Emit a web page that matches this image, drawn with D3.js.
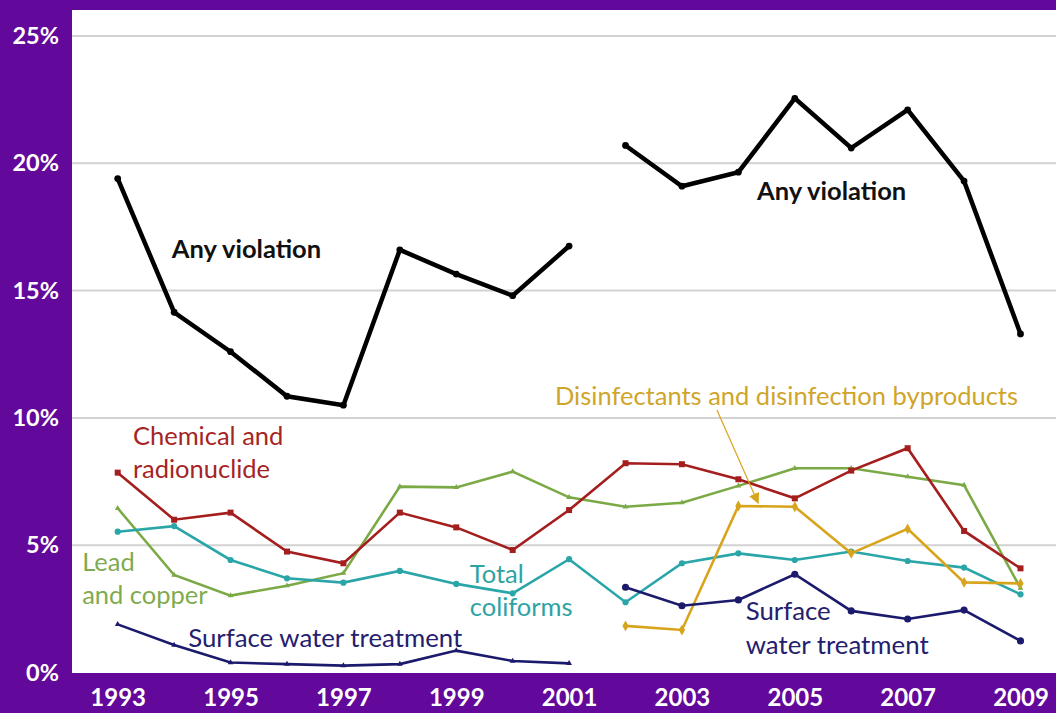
<!DOCTYPE html>
<html>
<head>
<meta charset="utf-8">
<script src="https://cdn.jsdelivr.net/npm/d3@7"></script>
<style>
  html, body { margin: 0; padding: 0; background: #62089a; }
  svg { display: block; }
  text { font-family: Lato, "Open Sans", sans-serif; }
</style>
</head>
<body>
<svg id="chart" width="1056" height="713"></svg>
<script>
// Share of systems with violations, by year and violation type (percent)
const years = [1993, 1994, 1995, 1996, 1997, 1998, 1999, 2000, 2001,
               2002, 2003, 2004, 2005, 2006, 2007, 2008, 2009];
const yTicks = [0, 5, 10, 15, 20, 25];
const xTickYears = [1993, 1995, 1997, 1999, 2001, 2003, 2005, 2007, 2009];

// Reporting changed after 2001, so some series are drawn as two separate runs
const breakAfter = 2001;

const anyViolation = [19.4, 14.15, 12.6, 10.85, 10.5, 16.6, 15.65, 14.8, 16.75,
                      20.7, 19.1, 19.65, 22.55, 20.6, 22.1, 19.3, 13.3];
const chemicalRadionuclide = [7.85, 6.0, 6.28, 4.75, 4.29, 6.28, 5.7, 4.81, 6.38,
                              8.22, 8.18, 7.59, 6.84, 7.93, 8.81, 5.56, 4.09];
const leadCopper = [6.45, 3.83, 3.02, 3.41, 3.9, 7.3, 7.27, 7.89, 6.88,
                    6.51, 6.67, 7.33, 8.02, 8.02, 7.69, 7.36, 3.31];
const totalColiforms = [5.53, 5.75, 4.42, 3.7, 3.53, 3.99, 3.48, 3.11, 4.45,
                        2.76, 4.29, 4.68, 4.42, 4.75, 4.38, 4.12, 3.07];
const surfaceWater = [1.89, 1.08, 0.39, 0.33, 0.27, 0.33, 0.86, 0.45, 0.36,
                      3.35, 2.62, 2.85, 3.86, 2.42, 2.1, 2.45, 1.24];
const disinfectants = [null, null, null, null, null, null, null, null, null,
                       1.83, 1.67, 6.54, 6.51, 4.68, 5.64, 3.54, 3.5];

const purple = "#62089a";
const colors = {
  any: "#000000",
  chem: "#a51e1e",
  lead: "#7aa945",
  coli: "#2aa5a8",
  swt: "#1c1a6c",
  dbp: "#d8a41c"
};

const svg = d3.select("#chart");
const W = 1056, H = 713;
const plot = { left: 72, top: 10, right: 1056, bottom: 673 };

const x = d3.scaleLinear().domain([1993, 2009]).range([117.7, 1020.5]);
const y = d3.scaleLinear().domain([0, 25]).range([672.5, 36]);

// Frame: purple page with white plotting panel
svg.append("rect").attr("width", W).attr("height", H).attr("fill", purple);
svg.append("rect")
  .attr("x", plot.left).attr("y", plot.top)
  .attr("width", plot.right - plot.left).attr("height", plot.bottom - plot.top)
  .attr("fill", "#ffffff");

// Horizontal gridlines
svg.append("g")
  .selectAll("line")
  .data(yTicks.filter(d => d > 0))
  .join("line")
  .attr("x1", plot.left).attr("x2", plot.right)
  .attr("y1", d => y(d)).attr("y2", d => y(d))
  .attr("stroke", "#d2d2d2").attr("stroke-width", 2);

// Y axis labels
const yAxis = d3.axisLeft(y).tickValues(yTicks).tickFormat(d => d + "%").tickSize(0).tickPadding(0);
const gy = svg.append("g").attr("transform", "translate(59,0)").call(yAxis);
gy.select(".domain").remove();
gy.selectAll("text")
  .attr("fill", "#ffffff").attr("font-size", 23.5).attr("font-weight", 700)
  .attr("font-family", "Lato, sans-serif");

// X axis labels
const xAxis = d3.axisBottom(x).tickValues(xTickYears).tickFormat(d3.format("d")).tickSize(0).tickPadding(0);
const gx = svg.append("g").attr("transform", "translate(0,689)").call(xAxis);
gx.select(".domain").remove();
gx.selectAll("text")
  .attr("fill", "#ffffff").attr("font-size", 24).attr("font-weight", 700)
  .attr("font-family", "Lato, sans-serif");

// Split a series into runs on either side of the reporting break
function runs(values) {
  const pts = years.map((yr, i) => ({ yr, v: values[i] })).filter(p => p.v != null);
  return [pts.filter(p => p.yr <= breakAfter), pts.filter(p => p.yr > breakAfter)]
    .filter(r => r.length > 0);
}
function continuous(values) {
  return [years.map((yr, i) => ({ yr, v: values[i] })).filter(p => p.v != null)];
}

const line = d3.line().x(d => x(d.yr)).y(d => y(d.v));

function drawSeries(segments, color, width, marker, size) {
  const g = svg.append("g");
  g.selectAll("path")
    .data(segments)
    .join("path")
    .attr("d", line)
    .attr("fill", "none")
    .attr("stroke", color)
    .attr("stroke-width", width)
    .attr("stroke-linejoin", "miter")
    .attr("stroke-linecap", "round");
  if (marker) {
    const sym = d3.symbol().type(marker).size(size);
    g.selectAll("path.mk")
      .data(segments.flat())
      .join("path")
      .attr("class", "mk")
      .attr("d", sym)
      .attr("transform", d => `translate(${x(d.yr)},${y(d.v)})`)
      .attr("fill", color);
  }
}

drawSeries(runs(anyViolation), colors.any, 4.5, d3.symbolCircle, 36);
drawSeries(continuous(leadCopper), colors.lead, 2.6, d3.symbolTriangle, 14);
drawSeries(continuous(chemicalRadionuclide), colors.chem, 2.6, d3.symbolSquare, 36);
drawSeries(continuous(totalColiforms), colors.coli, 2.6, d3.symbolCircle, 30);
drawSeries(continuous(disinfectants), colors.dbp, 2.6, d3.symbolDiamond, 34);

// Surface water treatment: small triangles before the break, dots after
const swtRuns = runs(surfaceWater);
drawSeries([swtRuns[0]], colors.swt, 2.6, d3.symbolTriangle, 14);
drawSeries([swtRuns[1]], colors.swt, 2.6, d3.symbolCircle, 40);

// Series labels, placed in data coordinates
const labels = [
  { lines: ["Any violation"], yr: 1993.96, v: 16.29, color: "#111111", weight: 700, size: 25.5 },
  { lines: ["Any violation"], yr: 2004.33, v: 18.57, color: "#111111", weight: 700, size: 25.5 },
  { lines: ["Chemical and", "radionuclide"], yr: 1993.27, v: 8.94, color: "#a52424", size: 25.5 },
  { lines: ["Lead", "and copper"], yr: 1992.37, v: 4.0, color: "#7fab4f", size: 25.5 },
  { lines: ["Surface water treatment"], yr: 1994.25, v: 0.99, color: "#24206e", size: 25.8 },
  { lines: ["Total", "coliforms"], yr: 1999.24, v: 3.53, color: "#2ea3a3", size: 25.5 },
  { lines: ["Disinfectants and disinfection byproducts"], yr: 2000.75, v: 10.51, color: "#cfa52a", size: 25.5 },
  { lines: ["Surface", "water treatment"], yr: 2004.13, v: 2.06, color: "#24206e", size: 25.8 }
];
const lineGap = 33.5;
labels.forEach(l => {
  const t = svg.append("text")
    .attr("x", x(l.yr)).attr("y", y(l.v))
    .attr("fill", l.color)
    .attr("font-size", l.size)
    .attr("font-weight", l.weight || 400);
  l.lines.forEach((s, i) => {
    t.append("tspan").attr("x", x(l.yr)).attr("dy", i === 0 ? 0 : lineGap).text(s);
  });
});

// Pointer from the disinfectants label to its line
svg.append("defs").append("marker")
  .attr("id", "arrow").attr("viewBox", "0 0 10 10")
  .attr("refX", 9).attr("refY", 5)
  .attr("markerWidth", 9).attr("markerHeight", 9)
  .attr("orient", "auto")
  .append("path").attr("d", "M0,0 L10,5 L0,10 z").attr("fill", colors.dbp);
svg.append("line")
  .attr("x1", x(2003.62)).attr("y1", y(10.31))
  .attr("x2", x(2004.35)).attr("y2", y(6.66))
  .attr("stroke", colors.dbp).attr("stroke-width", 1.2)
  .attr("marker-end", "url(#arrow)");
</script>
</body>
</html>
